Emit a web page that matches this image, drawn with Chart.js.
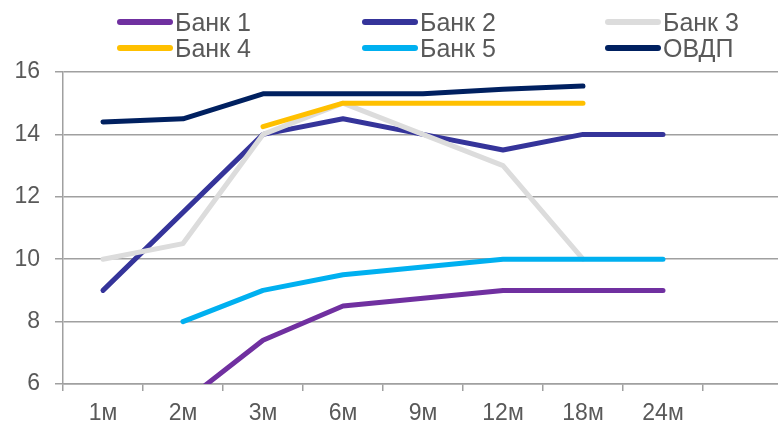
<!DOCTYPE html>
<html>
<head>
<meta charset="utf-8">
<script src="https://cdn.jsdelivr.net/npm/chart.js@4/dist/chart.umd.min.js"></script>
<style>
  html, body { margin: 0; padding: 0; background: #fff; overflow: hidden; width: 778px; height: 425px; }
  #wrap { position: relative; width: 783px; height: 425px; }
  #legend { position: absolute; left: 0; top: 0; width: 778px; height: 60px; font-family: "Liberation Sans", Arial, sans-serif; font-size: 25px; color: #595959; }
  .item { position: absolute; height: 26px; line-height: 26px; white-space: nowrap; }
  .swatch { display: inline-block; width: 56px; height: 6px; border-radius: 3px; vertical-align: middle; margin-right: 2px; position: relative; top: -2px; }
</style>
</head>
<body>
<div id="wrap">
  <canvas id="c" width="783" height="425"></canvas>
  <div id="legend"></div>
</div>
<script>
const categories = ['1м', '2м', '3м', '6м', '9м', '12м', '18м', '24м', ''];
const seriesNames = ['Банк 1', 'Банк 2', 'Банк 3', 'Банк 4', 'Банк 5', 'ОВДП'];
const bank1 = [null, 5.4, 7.4, 8.5, 8.75, 9, 9, 9, null];
const bank2 = [9, 11.5, 14, 14.5, 14, 13.5, 14, 14, null];
const bank3 = [10, 10.5, 14, 15, 14, 13, 10, null, null];
const bank4 = [null, null, 14.25, 15, 15, 15, 15, null, null];
const bank5 = [null, 8, 9, 9.5, 9.75, 10, 10, 10, null];
const ovdp = [14.4, 14.5, 15.3, 15.3, 15.3, 15.45, 15.55, null, null];
const yTicks = [6, 8, 10, 12, 14, 16];
const colors = ['#7030A0', '#35349A', '#DCDCDC', '#FFC000', '#00B0F0', '#002060'];
const allSeries = [bank1, bank2, bank3, bank4, bank5, ovdp];

const datasets = allSeries.map((d, i) => ({
  label: seriesNames[i],
  data: d,
  borderColor: colors[i],
  backgroundColor: colors[i],
  borderWidth: 5,
  pointRadius: 0,
  pointHoverRadius: 0,
  tension: 0,
  spanGaps: false,
  borderCapStyle: 'round',
  borderJoinStyle: 'round',
  order: allSeries.length - 1 - i
}));

const font = { family: '"Liberation Sans", Arial, sans-serif', size: 23 };

new Chart(document.getElementById('c'), {
  type: 'line',
  data: { labels: categories, datasets },
  options: {
    responsive: false,
    animation: false,
    events: [],
    layout: { padding: { top: 72, left: 0, right: 0, bottom: 0 } },
    plugins: { legend: { display: false }, tooltip: { enabled: false } },
    scales: {
      x: {
        offset: true,
        grid: { offset: true, drawOnChartArea: false, drawTicks: true, tickLength: 7, color: '#A0A0A0', lineWidth: 1.5 },
        border: { color: '#A0A0A0', width: 1.5 },
        ticks: { color: '#595959', font, padding: 9, maxRotation: 0, autoSkip: false },
        afterFit: s => { s.height = 41; }
      },
      y: {
        min: 6, max: 16,
        afterBuildTicks: s => { s.ticks = yTicks.map(v => ({ value: v })); },
        grid: { color: '#A0A0A0', lineWidth: 1.5, tickLength: 8 },
        border: { color: '#A0A0A0', width: 1.5 },
        ticks: { color: '#595959', font, padding: 15 },
        afterFit: s => { s.width = 63; }
      }
    }
  }
});

// legend
const legendPos = [
  [117, 9], [362, 9], [605, 9],
  [117, 35], [362, 35], [605, 35]
];
const lg = document.getElementById('legend');
seriesNames.forEach((n, i) => {
  const el = document.createElement('div');
  el.className = 'item';
  el.style.left = legendPos[i][0] + 'px';
  el.style.top = legendPos[i][1] + 'px';
  const sw = document.createElement('span');
  sw.className = 'swatch';
  sw.style.background = colors[i];
  el.appendChild(sw);
  el.appendChild(document.createTextNode(n));
  lg.appendChild(el);
});
</script>
</body>
</html>
